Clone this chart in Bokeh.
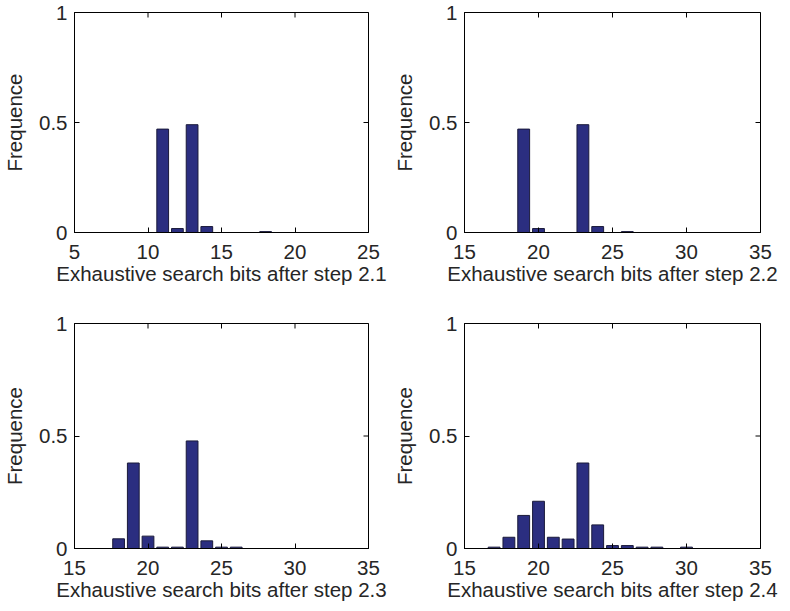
import math
from bokeh.plotting import figure
from bokeh.layouts import column, row
from bokeh.models import FixedTicker, Range1d
from bokeh.embed import file_html
from bokeh.resources import INLINE

# ---- data ----
x_step21 = [11, 12, 13, 14, 18]
f_step21 = [0.47, 0.018, 0.49, 0.027, 0.004]

x_step22 = [19, 20, 23, 24, 26]
f_step22 = [0.47, 0.018, 0.49, 0.027, 0.004]

x_step23 = [18, 19, 20, 21, 22, 23, 24, 25, 26]
f_step23 = [0.043, 0.38, 0.055, 0.006, 0.006, 0.478, 0.034, 0.006, 0.006]

x_step24 = [17, 18, 19, 20, 21, 22, 23, 24, 25, 26, 27, 28, 30]
f_step24 = [0.006, 0.05, 0.147, 0.21, 0.05, 0.042, 0.38, 0.105, 0.013, 0.013, 0.006, 0.006, 0.006]

xticks_a = [5, 10, 15, 20, 25]
xticks_b = [15, 20, 25, 30, 35]
yticks = [0, 0.5, 1]
ytick_labels = {0: "0", 0.5: "0.5", 1: "1"}

labels = ["Exhaustive search bits after step 2.1", "Exhaustive search bits after step 2.2",
          "Exhaustive search bits after step 2.3", "Exhaustive search bits after step 2.4"]
ylabel = "Frequence"

FONT = "Liberation Sans"
FS = "20.5px"
TXT = "#262626"
BAR = "#2b2e80"


def style_axis(ax, ticks):
    ax.ticker = FixedTicker(ticks=ticks)
    ax.major_tick_in = 5
    ax.major_tick_out = 0
    ax.minor_tick_in = 0
    ax.minor_tick_out = 0
    ax.axis_line_color = "black"
    ax.major_tick_line_color = "black"
    ax.major_label_text_font = FONT
    ax.major_label_text_font_size = FS
    ax.major_label_text_color = TXT
    ax.axis_label_text_font = FONT
    ax.axis_label_text_font_size = FS
    ax.axis_label_text_font_style = "normal"
    ax.axis_label_text_color = TXT


def make(xs, hs, xr, xticks, label, h, bl, br, bt, bb):
    p = figure(width=390, height=h, x_range=Range1d(*xr), y_range=Range1d(0, 1),
               output_backend="svg", toolbar_location=None,
               min_border_left=bl, min_border_right=br, min_border_top=bt, min_border_bottom=bb)
    p.vbar(x=xs, top=hs, width=0.8, fill_color=BAR, line_color="#1a1a3a", line_width=1)
    p.xgrid.visible = False
    p.ygrid.visible = False
    p.outline_line_color = "black"
    p.outline_line_alpha = 1
    style_axis(p.xaxis[0], xticks)
    style_axis(p.yaxis[0], yticks)
    p.xaxis[0].axis_label = label
    p.xaxis[0].major_label_standoff = 12
    p.xaxis[0].axis_label_standoff = 0
    p.yaxis[0].axis_label = ylabel
    p.yaxis[0].major_label_standoff = 7
    p.yaxis[0].axis_label_standoff = 10
    p.yaxis[0].major_label_overrides = ytick_labels
    # mirrored inward ticks on top and right edges (box style)
    p.scatter(x=xticks, y=[1] * len(xticks), marker="dash", size=10, angle=math.pi / 2,
              line_color="black", line_width=1)
    p.scatter(x=[xr[1]] * len(yticks), y=yticks, marker="dash", size=10,
              line_color="black", line_width=1)
    p.background_fill_color = "white"
    p.border_fill_color = "white"
    return p


p1 = make(x_step21, f_step21, (5, 25), xticks_a, labels[0], 300, 69, 22, 12, 68)
p2 = make(x_step22, f_step22, (15, 35), xticks_b, labels[1], 300, 70, 20, 12, 68)
p3 = make(x_step23, f_step23, (15, 35), xticks_b, labels[2], 306, 69, 22, 23, 58)
p4 = make(x_step24, f_step24, (15, 35), xticks_b, labels[3], 306, 70, 20, 23, 58)

layout = column(row(p1, p2), row(p3, p4))
open("out.html", "w").write(file_html(layout, INLINE))
